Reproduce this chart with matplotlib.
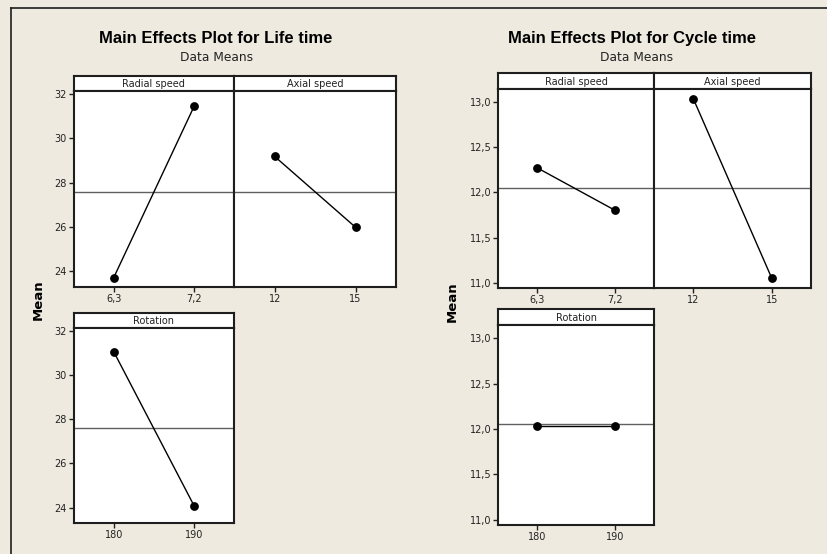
import matplotlib
matplotlib.use("Agg")
import matplotlib.pyplot as plt
from matplotlib.lines import Line2D

W, H = 828, 554
BG = "#eeeae0"
FRAME = "#1e1e1e"

# values
radial_levels = ["6,3", "7,2"]
axial_levels = ["12", "15"]
rotation_levels = ["180", "190"]

life_radial = [23.72, 31.44]
life_axial = [29.18, 25.99]
life_rotation = [31.05, 24.09]
life_mean = 27.6
life_yticks = [24, 26, 28, 30, 32]
life_yticklabels = ["24", "26", "28", "30", "32"]

cycle_radial = [12.27, 11.80]
cycle_axial = [13.03, 11.05]
cycle_rotation = [12.03, 12.03]
cycle_mean = 12.05
cycle_yticks = [11.0, 11.5, 12.0, 12.5, 13.0]
cycle_yticklabels = ["11,0", "11,5", "12,0", "12,5", "13,0"]


def rect(x0, y0, x1, y1):
    return [x0 / W, 1 - y1 / H, (x1 - x0) / W, (y1 - y0) / H]


def panel(fig, x0, x1, strip_top, plot_top, plot_bottom, label, levels, values,
          mean, ylim, yticks, yticklabels, show_y):
    # strip header
    sax = fig.add_axes(rect(x0, strip_top, x1, plot_top))
    sax.set_facecolor("white")
    sax.set_xticks([])
    sax.set_yticks([])
    for sp in sax.spines.values():
        sp.set_linewidth(1.5)
        sp.set_color(FRAME)
    sax.text(0.5, 0.45, label, ha="center", va="center", fontsize=7,
             color="#222222", transform=sax.transAxes)

    ax = fig.add_axes(rect(x0, plot_top, x1, plot_bottom))
    ax.set_facecolor("white")
    ax.axhline(mean, color="#606060", lw=1.0, zorder=1)
    ax.plot(range(len(values)), values, color="black", lw=1.0, marker="o",
            markersize=5.3, zorder=3)
    ax.set_xlim(-0.5, len(values) - 0.5)
    ax.set_ylim(*ylim)
    ax.set_xticks(range(len(levels)))
    ax.set_xticklabels(levels)
    if show_y:
        ax.set_yticks(yticks)
        ax.set_yticklabels(yticklabels)
    else:
        ax.set_yticks([])
    ax.tick_params(axis="both", direction="out", length=3.5, width=1.0,
                   labelsize=7, colors="#222222", pad=1.5)
    for sp in ax.spines.values():
        sp.set_linewidth(1.5)
        sp.set_color(FRAME)
    return ax


fig = plt.figure(figsize=(W / 100, H / 100), dpi=100)
fig.patch.set_facecolor(BG)

# outer frame lines (top and left)
fig.add_artist(Line2D([11 / W, 1], [1 - 8 / H, 1 - 8 / H], color=FRAME, lw=1.2))
fig.add_artist(Line2D([11 / W, 11 / W], [0, 1 - 8 / H], color=FRAME, lw=1.2))

# ---- Life time ----
life_ylim = (23.3, 32.13)
fig.text(215.5 / W, 1 - 43.3 / H, "Main Effects Plot for Life time",
         ha="center", va="baseline", fontsize=12, fontweight="bold",
         family="Liberation Sans")
fig.text(216.7 / W, 1 - 61 / H, "Data Means", ha="center", va="baseline",
         fontsize=8.8, color="#222222")
panel(fig, 73.5, 234.3, 76, 91, 287, "Radial speed", radial_levels,
      life_radial, life_mean, life_ylim, life_yticks, life_yticklabels, True)
panel(fig, 234.3, 396, 76, 91, 287, "Axial speed", axial_levels,
      life_axial, life_mean, life_ylim, life_yticks, life_yticklabels, False)
panel(fig, 73.5, 234.3, 312.5, 327.7, 523.3, "Rotation", rotation_levels,
      life_rotation, life_mean, life_ylim, life_yticks, life_yticklabels, True)
fig.text(38 / W, 1 - 300 / H, "Mean", rotation=90, ha="center", va="center",
         fontsize=9.5, fontweight="bold")

# ---- Cycle time ----
cycle_ylim = (10.94, 13.145)
fig.text(631.7 / W, 1 - 43.3 / H, "Main Effects Plot for Cycle time",
         ha="center", va="baseline", fontsize=12, fontweight="bold",
         family="Liberation Sans")
fig.text(637 / W, 1 - 61 / H, "Data Means", ha="center", va="baseline",
         fontsize=8.8, color="#222222")
panel(fig, 498.3, 654.3, 72.7, 88.7, 288.3, "Radial speed", radial_levels,
      cycle_radial, cycle_mean, cycle_ylim, cycle_yticks, cycle_yticklabels, True)
panel(fig, 654.3, 811, 72.7, 88.7, 288.3, "Axial speed", axial_levels,
      cycle_axial, cycle_mean, cycle_ylim, cycle_yticks, cycle_yticklabels, False)
panel(fig, 498.3, 654.3, 309.3, 325, 525, "Rotation", rotation_levels,
      cycle_rotation, cycle_mean, cycle_ylim, cycle_yticks, cycle_yticklabels, True)
fig.text(452 / W, 1 - 302 / H, "Mean", rotation=90, ha="center", va="center",
         fontsize=9.5, fontweight="bold")

fig.savefig("out.png", dpi=100, facecolor=BG)
